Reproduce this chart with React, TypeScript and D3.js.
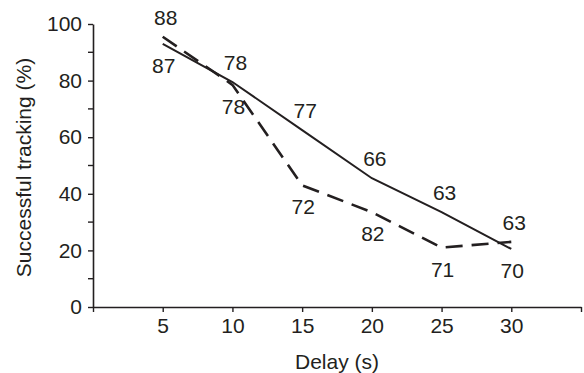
import React, { useEffect, useRef } from 'react';
import * as d3 from 'd3';

// delay in seconds
const delays = [5, 10, 15, 20, 25, 30];
// successful tracking (%) - solid and dashed series
const solidValues = [93, 79.5, 62.5, 45.5, 33.5, 20.5];
const dashedValues = [95.5, 78.5, 43, 33.5, 21, 23];
// numbers printed above / below the lines
const upperLabels = ['88', '78', '77', '66', '63', '63'];
const lowerLabels = ['87', '78', '72', '82', '71', '70'];

const yTicks = [0, 20, 40, 60, 80, 100];
const yMinorTicks = [10, 30, 50, 70, 90];
const xTicks = [0, 5, 10, 15, 20, 25, 30, 35];

const App = () => {
  const svgRef = useRef<SVGSVGElement>(null);

  useEffect(() => {
    const w = 584;
    const h = 373;
    const ink = '#231f20';
    const font = '"Liberation Sans", Arial, sans-serif';
    const fs = 21;

    const svg = d3.select(svgRef.current);
    svg.selectAll('*').remove();
    svg.attr('width', w).attr('height', h);

    const x = d3.scaleLinear().domain([0, 35]).range([93, 581]);
    const y = d3.scaleLinear().domain([0, 100]).range([307, 24]);

    // axes
    const xAxis = d3.axisBottom(x)
      .tickValues(xTicks)
      .tickSize(5)
      .tickSizeOuter(0)
      .tickFormat((d) => (d === 0 || d === 35 ? '' : String(d)));
    const gx = svg.append('g').attr('transform', `translate(0, ${y(0)})`).call(xAxis);
    gx.select('.domain').attr('stroke', ink).attr('stroke-width', 1.6);
    gx.selectAll('line').attr('stroke', ink).attr('stroke-width', 1.4);
    gx.selectAll('text')
      .attr('fill', ink)
      .attr('font-family', font)
      .attr('font-size', fs)
      .attr('y', 11);

    const yAxis = d3.axisLeft(y)
      .tickValues(yTicks)
      .tickSize(5)
      .tickSizeOuter(0)
      .tickFormat((d) => String(d));
    const gy = svg.append('g').attr('transform', `translate(${x(0)}, 0)`).call(yAxis);
    gy.select('.domain').attr('stroke', ink).attr('stroke-width', 1.6);
    gy.selectAll('line').attr('stroke', ink).attr('stroke-width', 1.4);
    gy.selectAll('text')
      .attr('fill', ink)
      .attr('font-family', font)
      .attr('font-size', fs)
      .attr('x', -11);

    svg.append('g')
      .selectAll('line')
      .data(yMinorTicks)
      .join('line')
      .attr('x1', x(0) - 5)
      .attr('x2', x(0))
      .attr('y1', (d) => y(d))
      .attr('y2', (d) => y(d))
      .attr('stroke', ink)
      .attr('stroke-width', 1.4);

    // axis titles
    svg.append('text')
      .attr('x', 337)
      .attr('y', 369)
      .attr('text-anchor', 'middle')
      .attr('font-family', font)
      .attr('font-size', fs)
      .attr('fill', ink)
      .text('Delay (s)');

    svg.append('text')
      .attr('transform', `translate(31, ${(y(0) + y(100)) / 2 + 2}) rotate(-90)`)
      .attr('text-anchor', 'middle')
      .attr('font-family', font)
      .attr('font-size', fs)
      .attr('fill', ink)
      .text('Successful tracking (%)');

    // lines
    const line = d3.line<number>()
      .x((d, i) => x(delays[i]))
      .y((d) => y(d));

    svg.append('path')
      .datum(dashedValues)
      .attr('d', line)
      .attr('fill', 'none')
      .attr('stroke', ink)
      .attr('stroke-width', 2.6)
      .attr('stroke-dasharray', '17,9');

    svg.append('path')
      .datum(solidValues)
      .attr('d', line)
      .attr('fill', 'none')
      .attr('stroke', ink)
      .attr('stroke-width', 2);

    // value labels
    svg.append('g')
      .selectAll('text')
      .data(upperLabels)
      .join('text')
      .attr('x', (d, i) => x(delays[i]) + 3)
      .attr('y', (d, i) => y(Math.max(solidValues[i], dashedValues[i])) - 12)
      .attr('text-anchor', 'middle')
      .attr('font-family', font)
      .attr('font-size', fs)
      .attr('fill', ink)
      .text((d) => d);

    svg.append('g')
      .selectAll('text')
      .data(lowerLabels)
      .join('text')
      .attr('x', (d, i) => x(delays[i]) + 1)
      .attr('y', (d, i) => y(Math.min(solidValues[i], dashedValues[i])) + 29)
      .attr('text-anchor', 'middle')
      .attr('font-family', font)
      .attr('font-size', fs)
      .attr('fill', ink)
      .text((d) => d);
  }, []);

  return (
    <svg
      ref={svgRef}
      style={{ position: 'absolute', left: 0, top: 0, background: '#fff' }}
    />
  );
};

export default App;
